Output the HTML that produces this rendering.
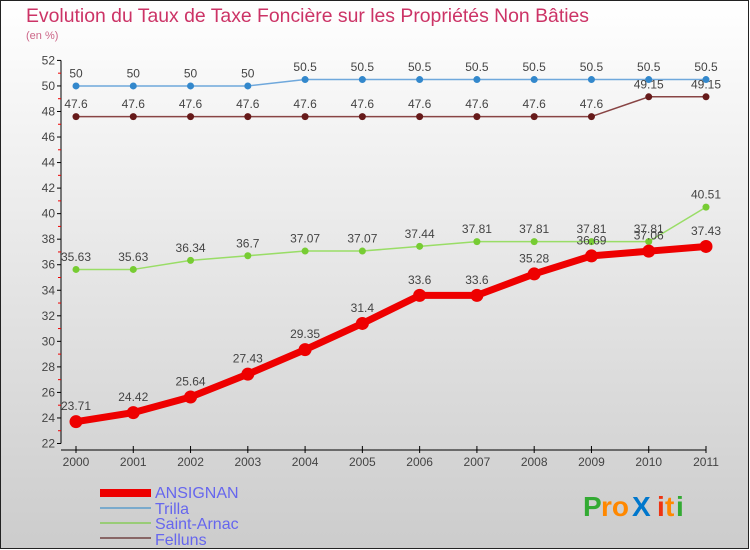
<!DOCTYPE html>
<html><head><meta charset="utf-8"><style>
body{margin:0}
#wrap{width:750px;height:550px;position:relative;overflow:hidden}
svg{display:block}
</style></head><body>
<div id="wrap">
<svg id="chart" width="750" height="550" xmlns="http://www.w3.org/2000/svg" font-family="Liberation Sans, sans-serif">
<defs><linearGradient id="bg" x1="0" y1="0" x2="0" y2="1"><stop offset="0" stop-color="#ffffff"/><stop offset="1" stop-color="#cccccc"/></linearGradient></defs>
<rect x="0.5" y="0.5" width="748" height="548" fill="url(#bg)" stroke="#222"/>
<text x="26" y="22" font-size="19.4" fill="#cc3366">Evolution du Taux de Taxe Foncière sur les Propriétés Non Bâties</text>
<text x="26" y="39" font-size="11" fill="#cc6688">(en %)</text>
<g id="axes"></g>
<g id="series"></g>
<g>
<rect x="100" y="489" width="51" height="8" fill="#ee0000"/>
<text x="155" y="498" font-size="16" fill="#6666ee">ANSIGNAN</text>
<rect x="100" y="507" width="51" height="2" fill="#7aaacc"/>
<text x="155" y="514" font-size="16" fill="#6666ee">Trilla</text>
<rect x="100" y="522" width="51" height="2" fill="#99cc77"/>
<text x="155" y="529" font-size="16" fill="#6666ee">Saint-Arnac</text>
<rect x="100" y="537" width="51" height="2" fill="#886666"/>
<text x="155" y="545" font-size="16" fill="#6666ee">Felluns</text>
</g>
<g font-size="28" font-weight="bold">
<text x="583" y="516" fill="#33aa33">P</text><text x="601" y="516" fill="#ff8800">ro</text><text x="632" y="516" fill="#0077cc">X</text><text x="657" y="516" fill="#ee3311">i</text><text x="665" y="516" fill="#ff8800">t</text><text x="676" y="516" fill="#33aa33">i</text>
</g>
</svg>
</div>
<script>
const years=["2000","2001","2002","2003","2004","2005","2006","2007","2008","2009","2010","2011"];
const yTicks=[22,24,26,28,30,32,34,36,38,40,42,44,46,48,50,52];
const ansignan=[23.71,24.42,25.64,27.43,29.35,31.4,33.6,33.6,35.28,36.69,37.06,37.43];
const trilla=[50,50,50,50,50.5,50.5,50.5,50.5,50.5,50.5,50.5,50.5];
const saintArnac=[35.63,35.63,36.34,36.7,37.07,37.07,37.44,37.81,37.81,37.81,37.81,40.51];
const felluns=[47.6,47.6,47.6,47.6,47.6,47.6,47.6,47.6,47.6,47.6,49.15,49.15];
const NS="http://www.w3.org/2000/svg";
function X(i){return 76+i*(630/11);}
function Y(v){return 443.5-(v-22)*12.77;}
function mk(tag,attrs,parent){const e=document.createElementNS(NS,tag);for(const k in attrs)e.setAttribute(k,attrs[k]);parent.appendChild(e);return e;}
const axes=document.getElementById('axes');
const ya=mk('line',{x1:61,y1:Y(52),x2:61,y2:Y(22),stroke:'#000'},axes);


yTicks.forEach(t=>{
  mk('line',{x1:57,y1:Y(t),x2:61,y2:Y(t),stroke:'#000'},axes);
  if(t<52)mk('line',{x1:58,y1:Y(t+1),x2:61,y2:Y(t+1),stroke:'#ee0000'},axes);
  const tx=mk('text',{x:55,y:Y(t)+4,'font-size':12,'text-anchor':'end',fill:'#444'},axes);
  tx.textContent=t;
  
  
});
const xa=mk('line',{x1:61,y1:450,x2:706,y2:450,stroke:'#000'},axes);


years.forEach((y,i)=>{
  mk('line',{x1:X(i),y1:446,x2:X(i),y2:453,stroke:'#000'},axes);
  const tx=mk('text',{x:X(i),y:466,'font-size':12,'text-anchor':'middle',fill:'#444'},axes);
  tx.textContent=y;
  
  
});
const sg=document.getElementById('series');
function draw(vals,color,lw,r,dot,name){
  const g=mk('g',{},sg);
  
  
  mk('polyline',{points:vals.map((v,i)=>X(i)+','+Y(v)).join(' '),fill:'none',stroke:color,'stroke-width':lw,'stroke-linejoin':'round'},g);
  vals.forEach((v,i)=>{
    const c=mk('circle',{cx:X(i),cy:Y(v),r:r,fill:dot},g);
    
    
    const t=mk('text',{x:X(i),y:Y(v)-r-5,'font-size':12,'text-anchor':'middle',fill:'#444'},g);
    t.textContent=v;
    
    
  });
}
draw(trilla,'#6fa8dc',1.5,3.5,'#3388cc','trilla');
draw(felluns,'#884444',1.5,3.5,'#661a1a','felluns');
draw(saintArnac,'#99dd66',1.5,3.5,'#77cc33','saint-arnac');
draw(ansignan,'#ee0000',7,6.5,'#ee0000','ansignan');
</script>
</body></html>
